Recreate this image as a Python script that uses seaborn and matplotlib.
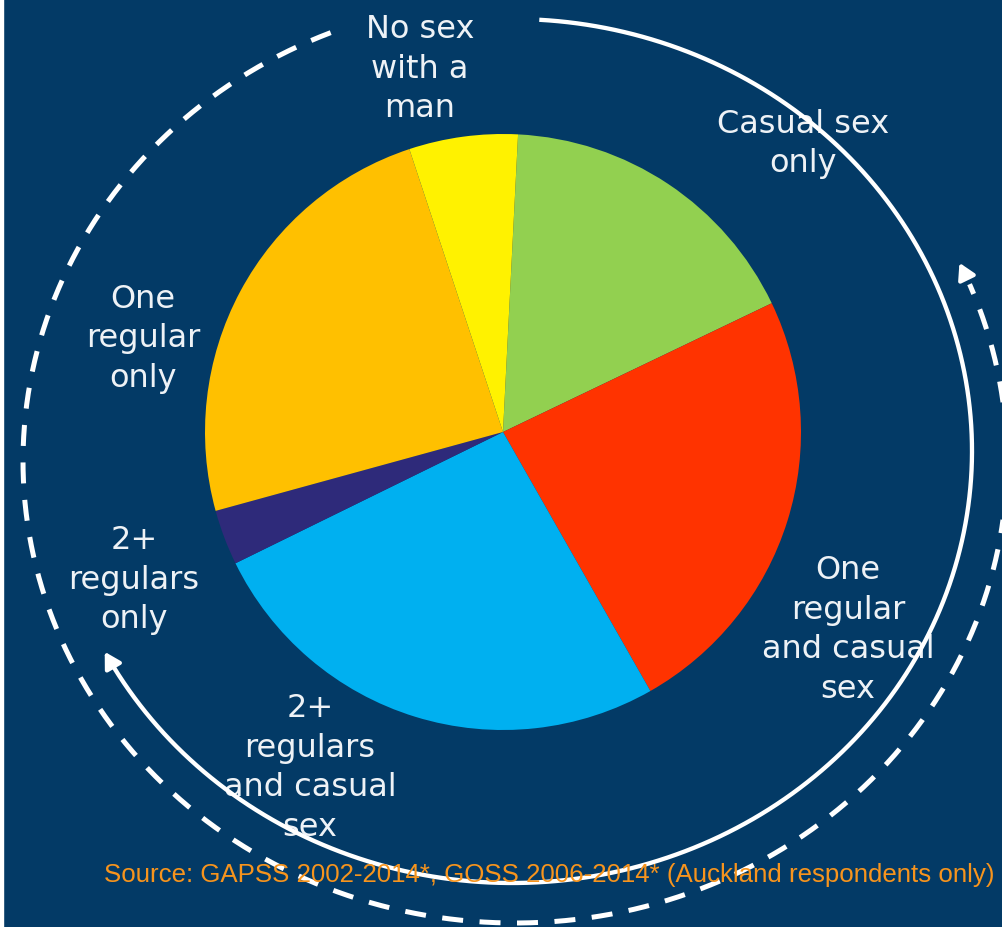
import numpy as np
import matplotlib
matplotlib.use("Agg")
import matplotlib.pyplot as plt
import seaborn as sns

# Shares of respondents by sexual partnering pattern (percent), clockwise from the top
categories = ["Casual sex only", "One regular and casual sex", "2+ regulars and casual sex",
              "2+ regulars only", "One regular only", "No sex with a man"]
shares = [17.1, 23.9, 26.0, 3.0, 24.2, 5.9]
labels = ["Casual sex\nonly", "One\nregular\nand casual\nsex", "2+\nregulars\nand casual\nsex",
          "2+\nregulars\nonly", "One\nregular\nonly", "No sex\nwith a\nman"]
slice_colors = ["#92D050", "#FF3300", "#00B0F0", "#2E2A7A", "#FFC000", "#FFF200"]
source_note = "Source: GAPSS 2002-2014*, GOSS 2006-2014* (Auckland respondents only)"

W, H = 1003, 928
BG = "#033A66"

sns.set_theme(style="white")
plt.rcParams["font.family"] = ["DejaVu Sans"]

fig = plt.figure(figsize=(W / 100, H / 100), dpi=100)
fig.patch.set_facecolor(BG)
# thin white margin on the left edge
fig.patches.append(plt.Rectangle((0, 0), 3 / W, 1, transform=fig.transFigure,
                                 color="white", zorder=10))
ax = fig.add_axes([3 / W, 0, (W - 3) / W, 1])
ax.set_facecolor(BG)


def py(y):
    """Convert a top-down pixel row to the axes' upward y coordinate."""
    return H - y


# Pie
center = (503, py(433))
wedges, _ = ax.pie(shares, colors=slice_colors, startangle=87.1, counterclock=False,
                   center=center, radius=298, wedgeprops=dict(linewidth=0))
ax.set_aspect("auto")
ax.set_xlim(3, W)
ax.set_ylim(0, H)
ax.axis("off")

# Category labels around the pie
label_pos = [(803, 144), (848, 630), (310, 768), (134, 580), (143, 339), (420, 69)]
for text, (x, y) in zip(labels, label_pos):
    ax.text(x, py(y), text, ha="center", va="center", fontsize=23,
            color="#EEF2F6", linespacing=1.37, zorder=3)


def arc(cx, cy, rx, ry, t0, t1, n=400):
    t = np.radians(np.linspace(t0, t1, n))
    return cx + rx * np.cos(t), py(cy) + ry * np.sin(t)


def arrow_head(cx, cy, rx, ry, t_tip, t_base, lw):
    xt, yt = arc(cx, cy, rx, ry, t_tip, t_tip, 1)
    xb, yb = arc(cx, cy, rx, ry, t_base, t_base, 1)
    ax.annotate("", xy=(xt[0], yt[0]), xytext=(xb[0], yb[0]),
                arrowprops=dict(arrowstyle="-|>,head_length=0.47,head_width=0.27",
                                mutation_scale=20, color="white", lw=lw,
                                shrinkA=0, shrinkB=0), zorder=4)


# Solid arc: clockwise from the top round to the lower left
s_cx, s_cy, s_rx, s_ry = 512, 452, 460, 432
xs, ys = arc(s_cx, s_cy, s_rx, s_ry, 86.6, -150.5)
ax.plot(xs, ys, color="white", lw=3.1, solid_capstyle="butt", zorder=4)
arrow_head(s_cx, s_cy, s_rx, s_ry, -152.3, -150.3, 3.0)

# Dashed arc: anticlockwise from the upper left round to the right side
d_cx, d_cy, d_rx, d_ry = 515, 462, 492, 462
xd, yd = arc(d_cx, d_cy, d_rx, d_ry, 112, 382.5, 800)
ax.plot(xd, yd, color="white", lw=3.6, linestyle=(0, (4.2, 3.3)),
        dash_capstyle="butt", zorder=4)
arrow_head(d_cx, d_cy, d_rx, d_ry, 25.4, 23.6, 3.0)

# Source note
ax.text(104, py(875), source_note, ha="left", va="center", fontsize=18.6,
        family=["Liberation Sans", "DejaVu Sans"], color="#F7941D", zorder=5)

fig.savefig("out.png", dpi=100, facecolor=fig.get_facecolor())
